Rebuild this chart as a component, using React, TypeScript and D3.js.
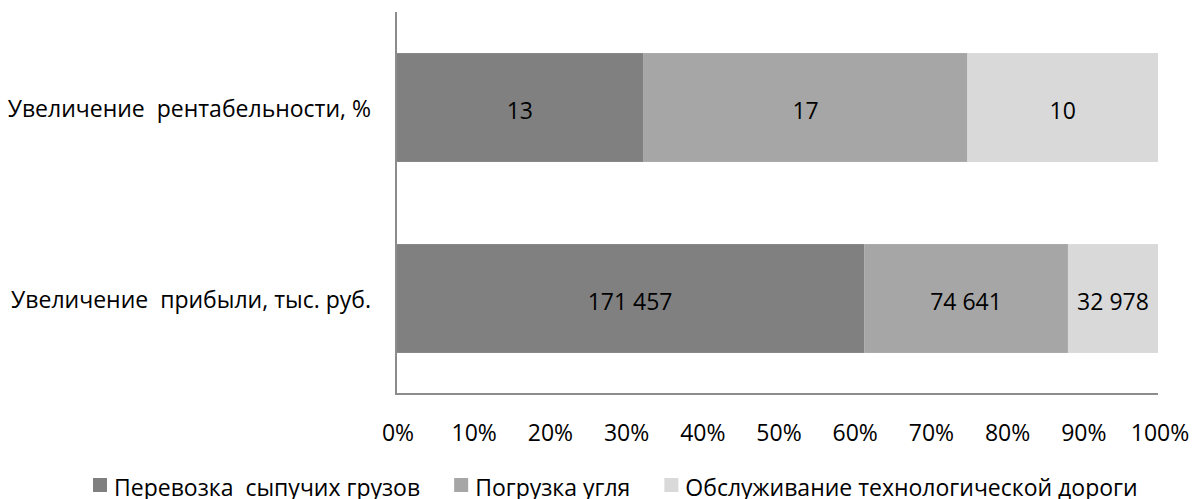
import React, { useEffect, useRef } from 'react';
import * as d3 from 'd3';

// categories (top to bottom) and the three stacked series
const categories = ['Увеличение  рентабельности, %', 'Увеличение  прибыли, тыс. руб.'];
const seriesNames = ['Перевозка  сыпучих грузов', 'Погрузка угля', 'Обслуживание технологической дороги'];
const transport = [13, 171457];
const coal = [17, 74641];
const road = [10, 32978];
const labelTexts = [
  ['13', '17', '10'],
  ['171 457', '74 641', '32 978'],
];
const tickValues = [0, 0.1, 0.2, 0.3, 0.4, 0.5, 0.6, 0.7, 0.8, 0.9, 1];

const colors = ['#808080', '#a6a6a6', '#d9d9d9'];
const FONT = 'Open Sans, sans-serif';
const FS = '23px';

const App = () => {
  const ref = useRef<SVGSVGElement>(null);

  useEffect(() => {
    const left = 396;
    const right = 1158;
    const top = 12;
    const bottom = 394;

    const svg = d3.select(ref.current);
    svg.selectAll('*').remove();

    const x = d3.scaleLinear().domain([0, 1]).range([left, right]);
    const y = d3.scaleBand()
      .domain(categories)
      .range([top, bottom])
      .paddingInner(0.43)
      .paddingOuter(0.215);

    // build rows and normalise to 100%
    const rows = categories.map((c, i) => {
      const vals = [transport[i], coal[i], road[i]];
      const total = d3.sum(vals);
      return { cat: c, vals: vals.map(v => v / total), texts: labelTexts[i] };
    });

    rows.forEach(r => {
      let acc = 0;
      r.vals.forEach((v, j) => {
        const x0 = x(acc);
        const x1 = x(acc + v);
        acc += v;
        svg.append('rect')
          .attr('x', x0)
          .attr('y', y(r.cat)!)
          .attr('width', x1 - x0)
          .attr('height', y.bandwidth())
          .attr('fill', colors[j]);
        svg.append('text')
          .attr('x', (x0 + x1) / 2)
          .attr('y', y(r.cat)! + y.bandwidth() / 2 + 3)
          .attr('dy', '0.35em')
          .attr('text-anchor', 'middle')
          .attr('fill', '#000')
          .style('font-family', FONT)
          .style('font-size', FS)
          .text(r.texts[j]);
      });
    });

    // axis lines
    svg.append('line')
      .attr('x1', left).attr('x2', left)
      .attr('y1', top).attr('y2', bottom)
      .attr('stroke', '#8c8c8c')
      .attr('stroke-width', 2);
    svg.append('line')
      .attr('x1', left - 1).attr('x2', right)
      .attr('y1', bottom).attr('y2', bottom)
      .attr('stroke', '#8c8c8c')
      .attr('stroke-width', 2);

    // category labels
    svg.selectAll('text.cat')
      .data(categories)
      .enter().append('text')
      .attr('class', 'cat')
      .attr('x', 371)
      .attr('y', d => y(d)! + y.bandwidth() / 2 + 1)
      .attr('dy', '0.35em')
      .attr('text-anchor', 'end')
      .style('white-space', 'pre')
      .style('font-family', FONT)
      .style('font-size', FS)
      .text(d => d);

    // tick labels
    svg.selectAll('text.tick')
      .data(tickValues)
      .enter().append('text')
      .attr('class', 'tick')
      .attr('x', d => x(d) + 2)
      .attr('y', 441)
      .attr('text-anchor', 'middle')
      .style('font-family', FONT)
      .style('font-size', FS)
      .text(d => d3.format('.0%')(d));

    // legend, laid out left to right
    let lx = 93;
    seriesNames.forEach((name, i) => {
      svg.append('rect')
        .attr('x', lx)
        .attr('y', 478)
        .attr('width', 14)
        .attr('height', 14)
        .attr('fill', colors[i]);
      const t = svg.append('text')
        .attr('x', lx + 21)
        .attr('y', 496)
        .style('white-space', 'pre')
        .style('font-family', FONT)
        .style('font-size', FS)
        .text(name);
      const w = (t.node() as SVGTextElement).getComputedTextLength();
      lx = lx + 21 + w + 34;
    });
  }, []);

  return (
    <svg ref={ref} width={1194} height={499}
      style={{ position: 'absolute', left: 0, top: 0, background: '#fff' }} />
  );
};

export default App;
